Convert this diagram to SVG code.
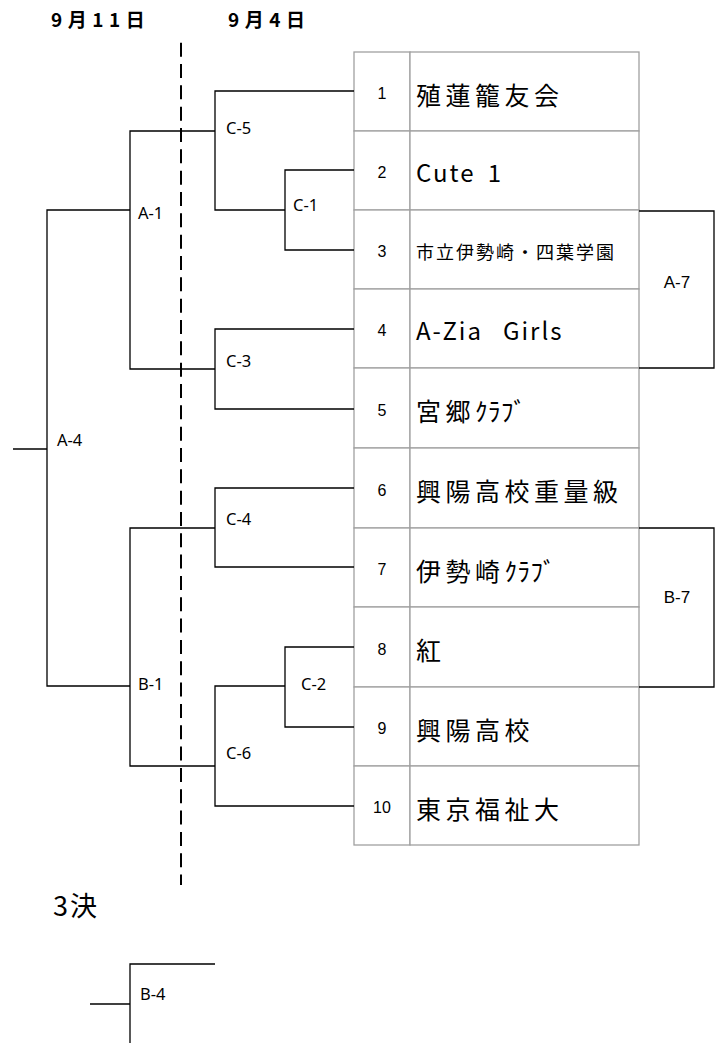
<svg xmlns="http://www.w3.org/2000/svg" width="723" height="1043" viewBox="0 0 723 1043">
<style>
.bg{fill:#fff}
.cell{fill:#fff;stroke:#a0a0a0;stroke-width:1.3}
.ln{fill:none;stroke:#000;stroke-width:1.3}
.dash{fill:none;stroke:#000;stroke-width:2;stroke-dasharray:14 7.33}
.hdr{font-family:"Noto Sans CJK JP","Noto Sans",sans-serif;font-size:19px;font-weight:bold;letter-spacing:5.5px;fill:#000}
.num{font-family:"Liberation Sans",Arial,sans-serif;font-size:16px;text-anchor:middle;fill:#000}
.name{font-family:"Noto Sans CJK JP",sans-serif;font-size:25px;letter-spacing:4.5px;fill:#000}
.lat{font-family:"Noto Sans CJK JP",sans-serif;font-size:24px;letter-spacing:2px;fill:#000}
.small{font-family:"Noto Sans CJK JP",sans-serif;font-size:18px;letter-spacing:2px;fill:#000}
.lbl{font-family:"Noto Sans","Open Sans",sans-serif;font-size:16.5px;fill:#000}
.lblr{font-family:"Liberation Sans",Arial,sans-serif;font-size:17px;text-anchor:middle;fill:#000}
.kana{letter-spacing:0.5px}
</style>
<rect class="bg" x="0" y="0" width="723" height="1043"/>

<g id="headers">
<text class="hdr" x="51" y="27">9月11日</text>
<text class="hdr" x="228" y="27">9月4日</text>
</g>

<g id="day-divider">
<line class="dash" x1="181" y1="42.7" x2="181" y2="885"/>
</g>

<g id="team-1"><rect class="cell" x="354" y="52" width="56" height="79"/><rect class="cell" x="410" y="52" width="229" height="79"/><text class="num" x="382" y="99">1</text><text class="name" x="416" y="104.5">殖蓮籠友会</text></g>
<g id="team-2"><rect class="cell" x="354" y="131" width="56" height="79"/><rect class="cell" x="410" y="131" width="229" height="79"/><text class="num" x="382" y="178">2</text><text class="lat" x="416" y="182">Cute<tspan style="font-size:12px;letter-spacing:0">　</tspan>1</text></g>
<g id="team-3"><rect class="cell" x="354" y="210" width="56" height="79"/><rect class="cell" x="410" y="210" width="229" height="79"/><text class="num" x="382" y="257">3</text><text class="small" x="416" y="258.5">市立伊勢崎・四葉学園</text></g>
<g id="team-4"><rect class="cell" x="354" y="289" width="56" height="79"/><rect class="cell" x="410" y="289" width="229" height="79"/><text class="num" x="382" y="336">4</text><text class="lat" x="416" y="340">A-Zia<tspan style="font-size:20px;letter-spacing:0">　</tspan>Girls</text></g>
<g id="team-5"><rect class="cell" x="354" y="368" width="56" height="80"/><rect class="cell" x="410" y="368" width="229" height="80"/><text class="num" x="382" y="415.5">5</text><text class="name" x="416" y="421">宮郷<tspan class="kana">ｸﾗﾌﾞ</tspan></text></g>
<g id="team-6"><rect class="cell" x="354" y="448" width="56" height="80"/><rect class="cell" x="410" y="448" width="229" height="80"/><text class="num" x="382" y="495.5">6</text><text class="name" x="416" y="501">興陽高校重量級</text></g>
<g id="team-7"><rect class="cell" x="354" y="528" width="56" height="79"/><rect class="cell" x="410" y="528" width="229" height="79"/><text class="num" x="382" y="575">7</text><text class="name" x="416" y="580.5">伊勢崎<tspan class="kana">ｸﾗﾌﾞ</tspan></text></g>
<g id="team-8"><rect class="cell" x="354" y="607" width="56" height="80"/><rect class="cell" x="410" y="607" width="229" height="80"/><text class="num" x="382" y="654.5">8</text><text class="name" x="416" y="660">紅</text></g>
<g id="team-9"><rect class="cell" x="354" y="687" width="56" height="79"/><rect class="cell" x="410" y="687" width="229" height="79"/><text class="num" x="382" y="734">9</text><text class="name" x="416" y="739.5">興陽高校</text></g>
<g id="team-10"><rect class="cell" x="354" y="766" width="56" height="79"/><rect class="cell" x="410" y="766" width="229" height="79"/><text class="num" x="382" y="813">10</text><text class="name" x="416" y="818.5">東京福祉大</text></g>

<g id="connectors">
<path class="ln" d="M354 91 H215 V210 H285"/>
<path class="ln" d="M354 170 H285 V250 H354"/>
<path class="ln" d="M215 131 H130 V369 H215"/>
<path class="ln" d="M130 210 H47 V686 H130"/>
<path class="ln" d="M47 449 H13"/>
<path class="ln" d="M354 329 H215 V409 H354"/>
<path class="ln" d="M354 488 H215 V567 H354"/>
<path class="ln" d="M215 528 H130 V766 H215"/>
<path class="ln" d="M354 647 H285 V727 H354"/>
<path class="ln" d="M285 686 H215 V806 H354"/>
<path class="ln" d="M639 211 H714 V368 H639"/>
<path class="ln" d="M639 528 H714 V687 H639"/>
<path class="ln" d="M215 964 H130 V1043"/>
<path class="ln" d="M90 1004 H130"/>
</g>

<g id="match-labels">
<text class="lbl" x="226" y="134">C-5</text>
<text class="lbl" x="293" y="211">C-1</text>
<text class="lbl" x="138" y="219">A-1</text>
<text class="lbl" x="226" y="367">C-3</text>
<text class="lbl" x="57" y="446">A-4</text>
<text class="lbl" x="226" y="525">C-4</text>
<text class="lbl" x="138" y="690">B-1</text>
<text class="lbl" x="301" y="690">C-2</text>
<text class="lbl" x="226" y="759">C-6</text>
<text class="lblr" x="677" y="288">A-7</text>
<text class="lblr" x="677" y="603">B-7</text>
<text class="lbl" x="140" y="1000">B-4</text>
</g>

<g id="third-place">
<text class="name" x="53" y="916" style="font-size:27px;letter-spacing:2px">3決</text>
</g>
</svg>
